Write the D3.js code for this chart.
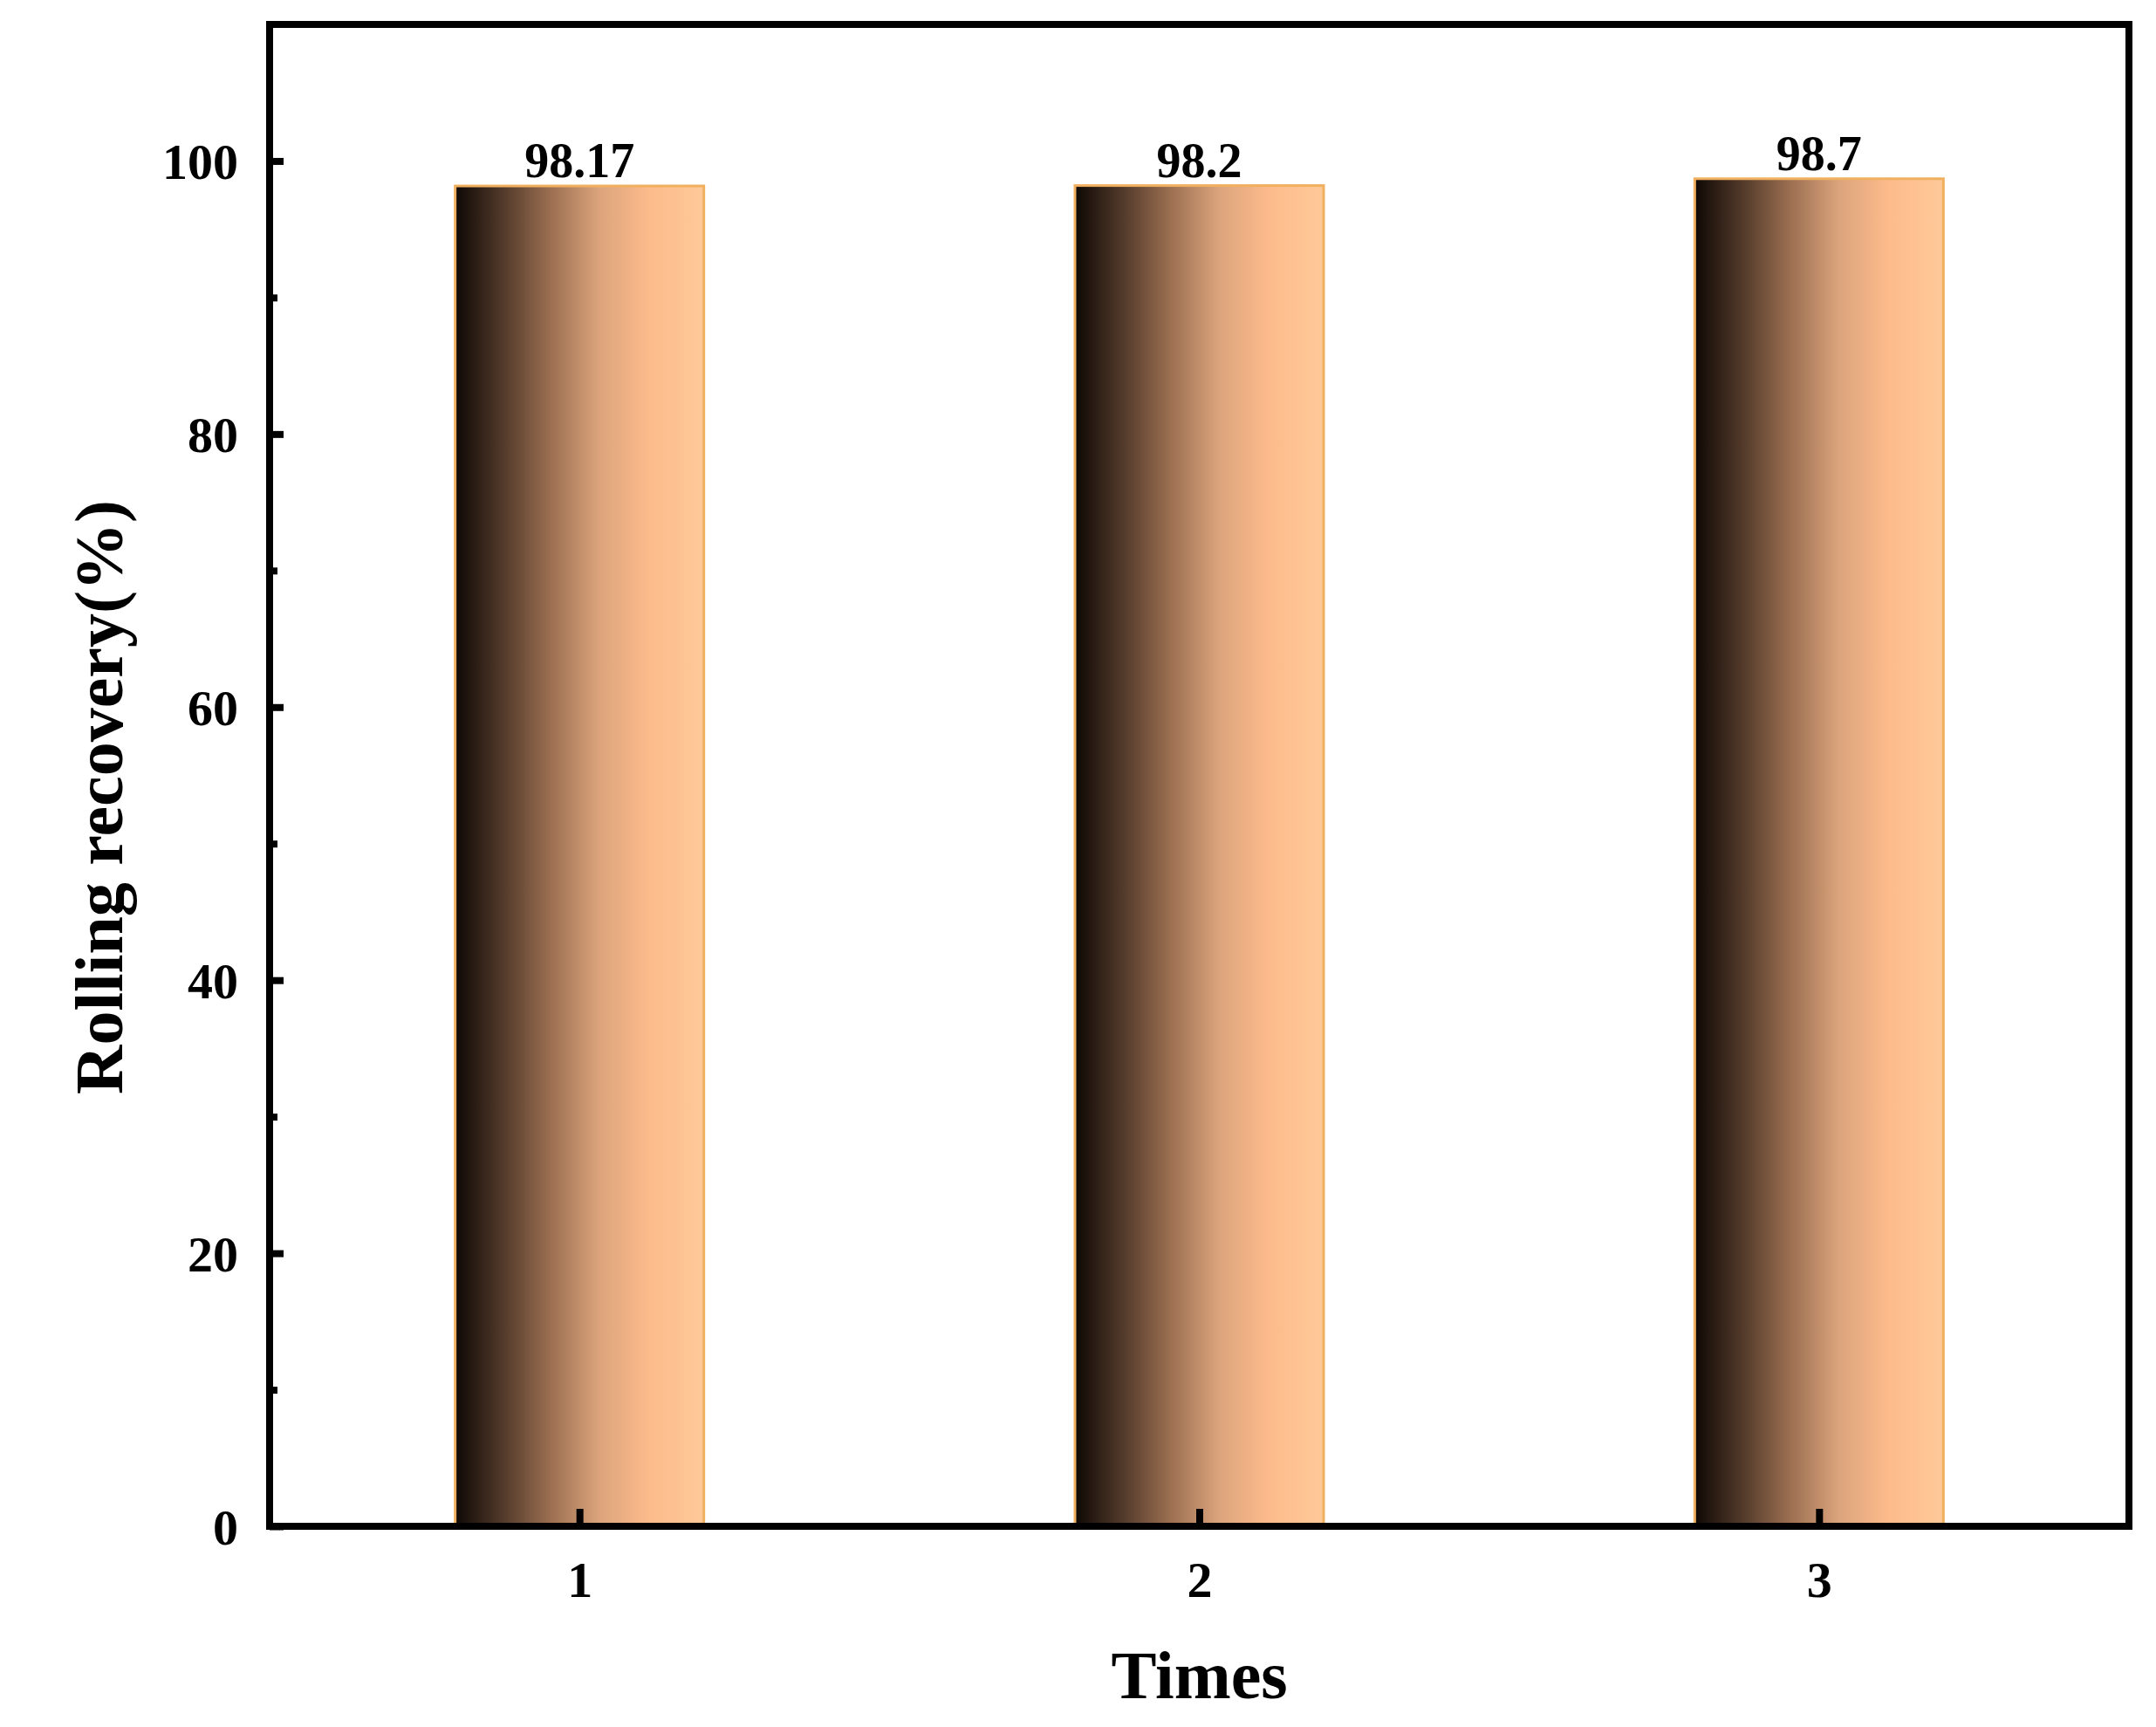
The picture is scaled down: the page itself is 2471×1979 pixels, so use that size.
<!DOCTYPE html>
<html><head><meta charset="utf-8">
<script src="https://cdn.jsdelivr.net/npm/d3@7"></script>
<style>body{margin:0;background:#fff}</style></head>
<body><script>
const categories = [1, 2, 3];
const values = [98.17, 98.2, 98.7];
const labels = ["98.17", "98.2", "98.7"];
const yTicks = [0, 20, 40, 60, 80, 100];
const yMinor = [10, 30, 50, 70, 90];

const W = 2471, H = 1979;
const m = {l: 309, r: 2440, t: 28, b: 1749};
const svg = d3.select("body").append("svg").attr("width", W).attr("height", H);
const x = d3.scaleLinear().domain([0.5, 3.5]).range([m.l, m.r]);
const y = d3.scaleLinear().domain([0, 110]).range([m.b, m.t]);
const font = "'Liberation Serif','Times New Roman',serif";

const g = svg.append("defs").append("linearGradient").attr("id", "grad");
[[0, "#0e0804"], [0.2, "#553c2c"], [0.38, "#9a6e50"], [0.58, "#dba47c"], [0.78, "#fdbb8b"], [1, "#fec999"]]
  .forEach(([o, c]) => g.append("stop").attr("offset", o).attr("stop-color", c));

const bw = 285;
svg.selectAll(".bar").data(values).enter().append("rect")
  .attr("x", (d, i) => x(categories[i]) - bw / 2).attr("width", bw)
  .attr("y", d => y(d)).attr("height", d => y(0) - y(d))
  .attr("fill", "url(#grad)").attr("stroke", "#f0b060").attr("stroke-width", 3);

svg.selectAll(".lbl").data(values).enter().append("text")
  .attr("x", (d, i) => x(categories[i])).attr("y", d => y(d) - 10)
  .attr("text-anchor", "middle").attr("font-family", font).attr("font-weight", "bold")
  .attr("font-size", 56).text((d, i) => labels[i]);

// axes with inward ticks
const ya = svg.append("g").attr("transform", `translate(${m.l},0)`)
  .call(d3.axisLeft(y).tickValues(yTicks).tickSize(-16).tickPadding(36));
const yb = svg.append("g").attr("transform", `translate(${m.l},0)`)
  .call(d3.axisLeft(y).tickValues(yMinor).tickSize(-9).tickFormat(""));
const xa = svg.append("g").attr("transform", `translate(0,${m.b})`)
  .call(d3.axisBottom(x).tickValues(categories).tickSize(-20).tickPadding(40).tickFormat(d3.format("d")));
[ya, yb, xa].forEach(a => {
  a.select(".domain").remove();
  a.selectAll("line").attr("stroke", "#000").attr("stroke-width", 8);
  a.selectAll("text").attr("font-family", font).attr("font-weight", "bold").attr("font-size", 58).attr("fill", "#000");
});
ya.selectAll("text").attr("dy", "0.35em");

svg.append("rect").attr("x", m.l).attr("y", m.t).attr("width", m.r - m.l).attr("height", m.b - m.t)
  .attr("fill", "none").attr("stroke", "#000").attr("stroke-width", 8);

svg.append("text").attr("x", (m.l + m.r) / 2).attr("y", 1946).attr("text-anchor", "middle")
  .attr("font-family", font).attr("font-weight", "bold").attr("font-size", 78).text("Times");
svg.append("text").attr("transform", `translate(140,${(m.t + m.b) / 2 + 25}) rotate(-90)`).attr("text-anchor", "middle")
  .attr("font-family", font).attr("font-weight", "bold").attr("font-size", 78).text("Rolling recovery(%)");
</script></body></html>
